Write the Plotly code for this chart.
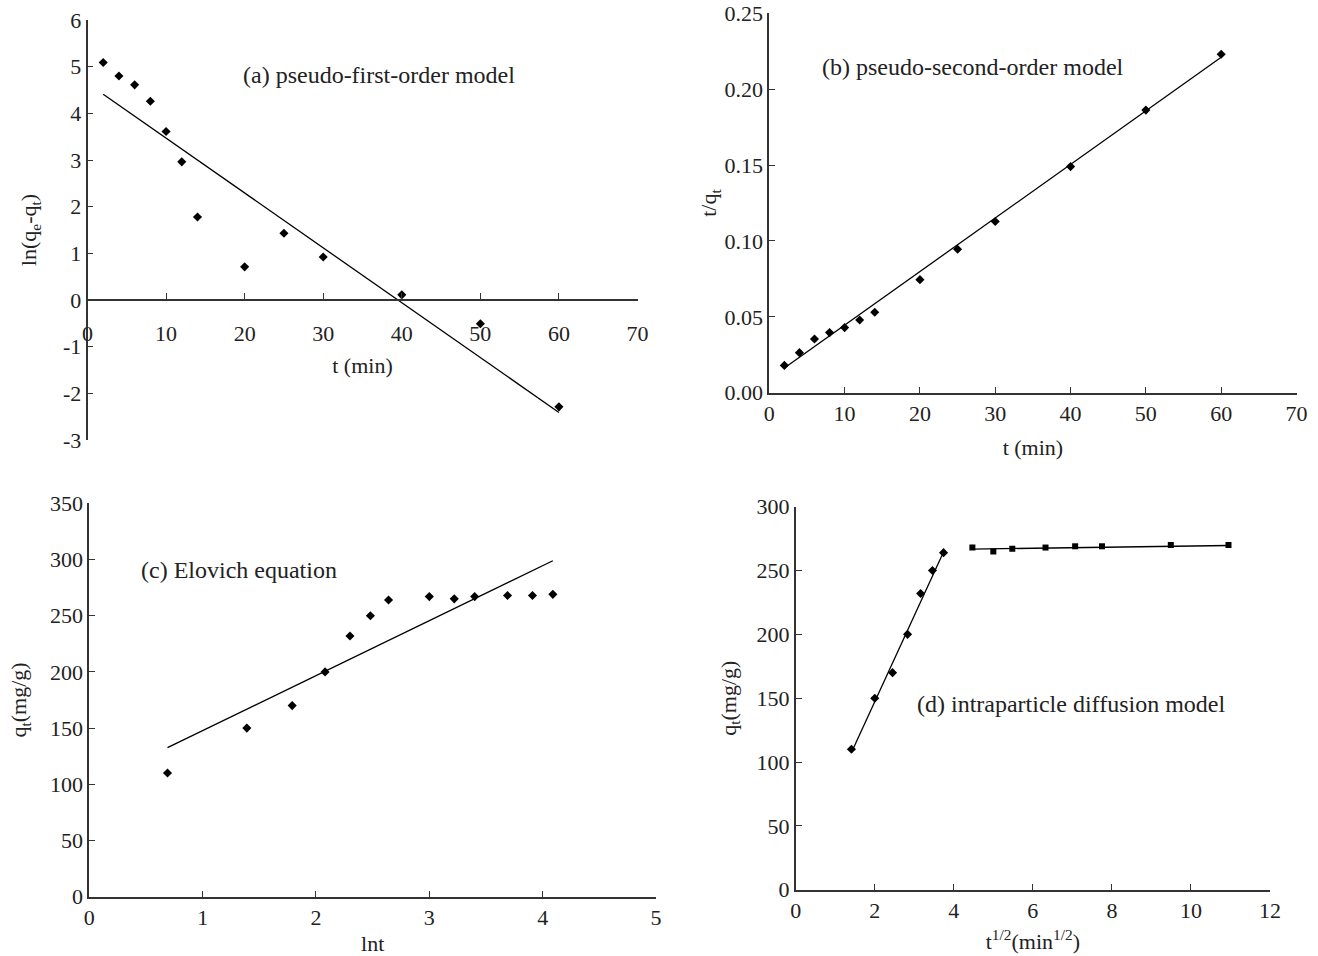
import plotly.graph_objects as go

# ---------------- data ----------------
t_min = [2, 4, 6, 8, 10, 12, 14, 20, 25, 30, 40, 50, 60]

# (a) pseudo-first-order
a_y = [5.09, 4.80, 4.61, 4.26, 3.61, 2.96, 1.78, 0.71, 1.43, 0.92, 0.11, -0.51, -2.29]
a_fit_x = [2, 60]
a_fit_y = [4.41, -2.41]
a_yticks = [-3, -2, -1, 0, 1, 2, 3, 4, 5, 6]
a_yticklabels = ["-3", "-2", "-1", "0", "1", "2", "3", "4", "5", "6"]

# (b) pseudo-second-order
b_y = [0.0180, 0.0264, 0.0354, 0.0396, 0.0429, 0.0479, 0.0530, 0.0745, 0.0945, 0.1128, 0.1490, 0.1862, 0.2230]
b_fit_x = [2, 60]
b_fit_y = [0.0163, 0.2210]

# (c) Elovich
c_x = [0.69, 1.39, 1.79, 2.08, 2.30, 2.48, 2.64, 3.00, 3.22, 3.40, 3.69, 3.91, 4.09]
c_y = [110, 150, 170, 200, 232, 250, 264, 267, 265, 267, 268, 268, 269]
c_fit_x = [0.69, 4.09]
c_fit_y = [132.6, 298.9]

# (d) intraparticle diffusion
d1_x = [1.41, 2.00, 2.45, 2.83, 3.16, 3.46, 3.74]
d1_y = [110, 150, 170, 200, 232, 250, 264]
d2_x = [4.47, 5.00, 5.48, 6.32, 7.07, 7.75, 9.49, 10.95]
d2_y = [268, 265, 267, 268, 269, 269, 270, 270]
d1_fit_x = [1.41, 3.74]
d1_fit_y = [107.5, 264.5]
d2_fit_x = [4.47, 10.95]
d2_fit_y = [266.8, 269.6]

# ---------------- style ----------------
W, H = 1318, 956
FONT = "Liberation Serif"
INK = "#222222"
TICK_FS = 22
ANN_FS = 24


def px_x(p):
    return p / W


def px_y(p):
    return 1 - p / H


fig = go.Figure()

diamond = dict(symbol="diamond", size=7, color="black")
square = dict(symbol="square", size=6, color="black")
fitline = dict(color="black", width=1.3)

# (a)
fig.add_trace(go.Scatter(x=t_min, y=a_y, mode="markers", marker=diamond, xaxis="x", yaxis="y"))
fig.add_trace(go.Scatter(x=a_fit_x, y=a_fit_y, mode="lines", line=fitline, xaxis="x", yaxis="y"))
# (b)
fig.add_trace(go.Scatter(x=t_min, y=b_y, mode="markers", marker=diamond, xaxis="x2", yaxis="y2"))
fig.add_trace(go.Scatter(x=b_fit_x, y=b_fit_y, mode="lines", line=fitline, xaxis="x2", yaxis="y2"))
# (c)
fig.add_trace(go.Scatter(x=c_x, y=c_y, mode="markers", marker=diamond, xaxis="x3", yaxis="y3"))
fig.add_trace(go.Scatter(x=c_fit_x, y=c_fit_y, mode="lines", line=fitline, xaxis="x3", yaxis="y3"))
# (d)
fig.add_trace(go.Scatter(x=d1_x, y=d1_y, mode="markers", marker=diamond, xaxis="x4", yaxis="y4"))
fig.add_trace(go.Scatter(x=d1_fit_x, y=d1_fit_y, mode="lines", line=fitline, xaxis="x4", yaxis="y4"))
fig.add_trace(go.Scatter(x=d2_x, y=d2_y, mode="markers", marker=square, xaxis="x4", yaxis="y4"))
fig.add_trace(go.Scatter(x=d2_fit_x, y=d2_fit_y, mode="lines", line=fitline, xaxis="x4", yaxis="y4"))

common = dict(
    showgrid=False, zeroline=False, showline=True, linecolor="#333333", linewidth=1.6,
    ticks="inside", ticklen=6, tickwidth=1.3, tickcolor="#333333",
    tickfont=dict(family=FONT, size=TICK_FS, color=INK),
    title_font=dict(family=FONT, size=TICK_FS, color=INK),
    automargin=False,
)

# domains (paper fractions from pixel layout)
a_dom_x = [px_x(87.5), px_x(637.5)]
a_dom_y = [px_y(440), px_y(20)]
b_dom_x = [px_x(769.3), px_x(1296.5)]
b_dom_y = [px_y(392.7), px_y(13.3)]
c_dom_x = [px_x(89.3), px_x(656)]
c_dom_y = [px_y(896.7), px_y(503.3)]
d_dom_x = [px_x(795.7), px_x(1270)]
d_dom_y = [px_y(889.7), px_y(506.7)]

a_yrange = [-3, 6]
a_xpos = a_dom_y[0] + (0 - a_yrange[0]) / (a_yrange[1] - a_yrange[0]) * (a_dom_y[1] - a_dom_y[0])

fig.update_layout(
    width=W, height=H,
    margin=dict(l=0, r=0, t=0, b=0, autoexpand=False),
    paper_bgcolor="white", plot_bgcolor="white",
    showlegend=False,
    font=dict(family=FONT, color=INK),
    xaxis=dict(common, domain=a_dom_x, range=[0, 70], dtick=10, anchor="free", position=a_xpos,
               ticklabelstandoff=14,
               title=dict(text="t (min)", standoff=11)),
    yaxis=dict(common, domain=a_dom_y, range=a_yrange, tickvals=a_yticks, ticktext=a_yticklabels,
               anchor="x", title=dict(text="ln(q<sub>e</sub>-q<sub>t</sub>)", standoff=20)),
    xaxis2=dict(common, domain=b_dom_x, range=[0, 70], dtick=10, anchor="y2",
                title=dict(text="t (min)", standoff=15)),
    yaxis2=dict(common, domain=b_dom_y, range=[0, 0.25], dtick=0.05, tickformat=".2f", anchor="x2",
                title=dict(text="t/q<sub>t</sub>", standoff=2)),
    xaxis3=dict(common, domain=c_dom_x, range=[0, 5], dtick=1, anchor="y3",
                title=dict(text="lnt", standoff=14)),
    yaxis3=dict(common, domain=c_dom_y, range=[0, 350], dtick=50, anchor="x3",
                title=dict(text="q<sub>t</sub>(mg/g)", standoff=17)),
    xaxis4=dict(common, domain=d_dom_x, range=[0, 12], dtick=2, anchor="y4",
                title=dict(text="t<sup>1/2</sup>(min<sup>1/2</sup>)", standoff=12)),
    yaxis4=dict(common, domain=d_dom_y, range=[0, 300], dtick=50, anchor="x4",
                title=dict(text="q<sub>t</sub>(mg/g)", standoff=14)),
)

ann_font = dict(family=FONT, size=ANN_FS, color=INK)
for txt, xp, yp in [
    ("(a) pseudo-first-order model", 241, 75),
    ("(b) pseudo-second-order model", 820, 67),
    ("(c) Elovich equation", 139, 570),
    ("(d) intraparticle diffusion model", 915, 704),
]:
    fig.add_annotation(text=txt, x=px_x(xp), y=px_y(yp), xref="paper", yref="paper",
                       xanchor="left", yanchor="middle", showarrow=False, font=ann_font)

# remove the browser's default 8px page margin so the figure sits at the top-left corner
fig.write_html("out.html", config={"displayModeBar": False},
               post_script="document.body.style.margin='0';")
